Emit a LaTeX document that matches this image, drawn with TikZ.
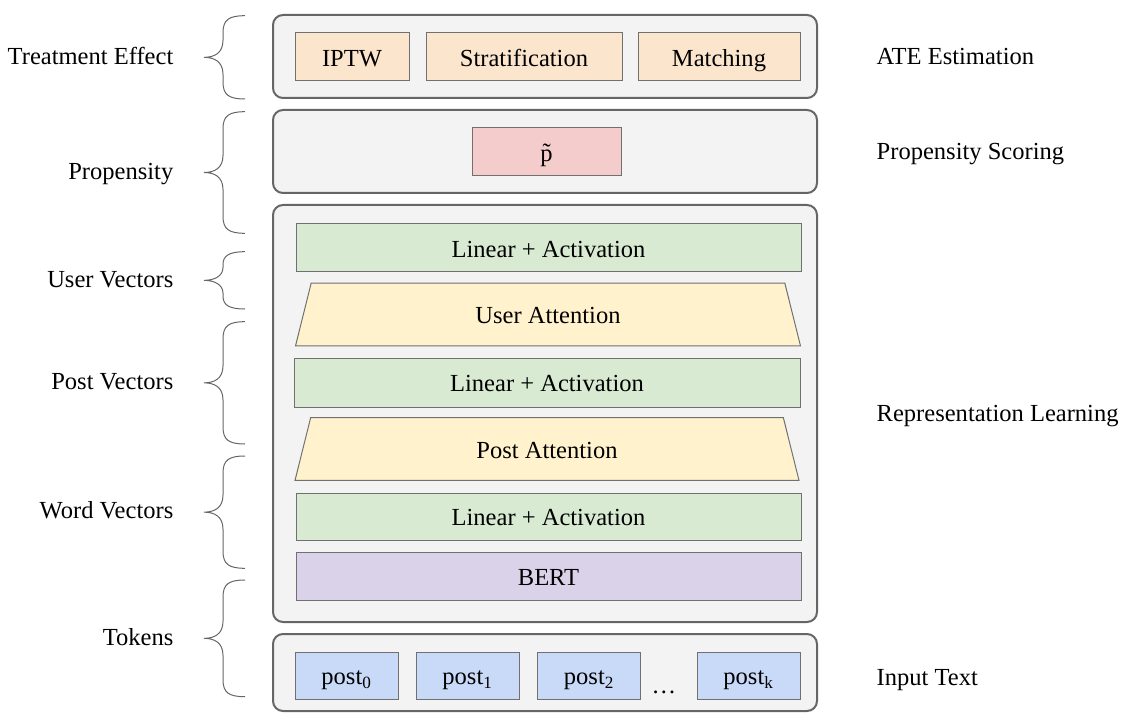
\documentclass[tikz,border=0pt]{standalone}
\usepackage{fontspec}
\setmainfont{Liberation Serif}
\usetikzlibrary{shapes.geometric}

\newcommand{\px}{0.75pt}
\definecolor{panelfill}{HTML}{F3F3F3}
\definecolor{panelline}{HTML}{666666}
\definecolor{boxline}{HTML}{707070}
\definecolor{ateorange}{HTML}{FCE5CD}
\definecolor{proppink}{HTML}{F4CCCC}
\definecolor{lingreen}{HTML}{D9EAD3}
\definecolor{attyellow}{HTML}{FFF2CC}
\definecolor{bertpurple}{HTML}{D9D2E9}
\definecolor{postblue}{HTML}{C9DAF8}

\tikzset{
	panel/.style={draw=panelline, fill=panelfill, line width=1.5pt, rounded corners=7.5pt},
	blk/.style={draw=boxline, line width=0.75pt, inner sep=0pt, minimum height=48*\px, text height=17.5pt, text depth=3.5pt},
	wd/.style={minimum width=#1*\px},
	attn/.style={draw=boxline, line width=0.75pt, inner sep=0pt, fill=attyellow, trapezium, trapezium angle=76, trapezium stretches body, text height=30.6pt, text depth=16.6pt},
	brc/.style={draw=panelline, line width=0.75pt},
	lbl/.style={anchor=base east},
	stage/.style={anchor=base west}
}

% geschweifte Klammer links: oben, unten (px)
\newcommand{\sidebrace}[2]{%
	\pgfmathsetmacro{\bm}{(#1+#2)/2}%
	\pgfmathsetmacro{\bh}{min(17,(\bm-#1)*0.45)}%
	\draw[brc] (245,#1) .. controls (229,#1) and (223,#1+4) .. (223,#1+\bh) -- (223,\bm-\bh)
		.. controls (223,\bm-4) and (214,\bm) .. (204,\bm)
		.. controls (214,\bm) and (223,\bm+4) .. (223,\bm+\bh) -- (223,#2-\bh)
		.. controls (223,#2-4) and (229,#2) .. (245,#2);}

\begin{document}
\begin{tikzpicture}[x=\px, y=-\px, font=\fontsize{18.4}{22}\selectfont]
	\useasboundingbox (0,0) rectangle (1143,713);

	% Rahmen
	\draw [panel] ( 273, 15 ) rectangle ( 817, 98 );
	\draw [panel] ( 273, 110 ) rectangle ( 817, 193 );
	\draw [panel] ( 273, 205 ) rectangle ( 817, 622 );
	\draw [panel] ( 273, 634 ) rectangle ( 817, 711 );

	% ATE
	\node [blk, fill=ateorange, wd=114] (iptw) at ( 352, 57 ) {IPTW};
	\node [blk, fill=ateorange, wd=196] (strat) at ( 524, 57 ) {Stratification};
	\node [blk, fill=ateorange, wd=162] (match) at ( 719, 57 ) {Matching};

	% Propensity
	\node [blk, fill=proppink, wd=149] (ptilde) at ( 546.5, 152 ) {\~{p}};

	% Representation
	\node [blk, fill=lingreen, wd=505] (lin1) at ( 548.5, 248 ) {Linear + Activation};
	\node [attn, wd=505] (uatt) at ( 548, 314.5 ) {User Attention};
	\node [blk, fill=lingreen, wd=506, minimum height=49*\px] (lin2) at ( 547, 382.5 ) {Linear + Activation};
	\node [attn, wd=504] (patt) at ( 547, 449 ) {Post Attention};
	\node [blk, fill=lingreen, wd=505, minimum height=47*\px] (lin3) at ( 548.5, 516.5 ) {Linear + Activation};
	\node [blk, fill=bertpurple, wd=505] (bert) at ( 548.5, 576 ) {BERT};

	% Input
	\node [blk, fill=postblue, wd=103, minimum height=47*\px] (post0) at ( 346.5, 675.5 ) {post\textsubscript{0}};
	\node [blk, fill=postblue, wd=103, minimum height=47*\px] (post1) at ( 467.5, 675.5 ) {post\textsubscript{1}};
	\node [blk, fill=postblue, wd=103, minimum height=47*\px] (post2) at ( 589, 675.5 ) {post\textsubscript{2}};
	\node [anchor=base] (dots) at ( 664, 693 ) {\dots};
	\node [blk, fill=postblue, wd=103, minimum height=47*\px] (postk) at ( 748.5, 675.5 ) {post\textsubscript{k}};

	% Klammern links
	\sidebrace{15.7}{99}
	\sidebrace{111.7}{233.3}
	\sidebrace{251.7}{309}
	\sidebrace{321.7}{444}
	\sidebrace{456}{568.3}
	\sidebrace{580}{696.7}

	\node [lbl] (teff) at ( 178, 65 ) {Treatment Effect};
	\node [lbl] (prop) at ( 178, 180 ) {Propensity};
	\node [lbl] (uvec) at ( 178, 287 ) {User Vectors};
	\node [lbl] (pvec) at ( 178, 389 ) {Post Vectors};
	\node [lbl] (wvec) at ( 178, 518 ) {Word Vectors};
	\node [lbl] (tok) at ( 178, 645 ) {Tokens};

	% Stufen rechts
	\node [stage] (ate) at ( 872, 65 ) {ATE Estimation};
	\node [stage] (pscore) at ( 872, 160 ) {Propensity Scoring};
	\node [stage] (rep) at ( 872, 421 ) {Representation Learning};
	\node [stage] (inp) at ( 872, 685 ) {Input Text};
\end{tikzpicture}
\end{document}
